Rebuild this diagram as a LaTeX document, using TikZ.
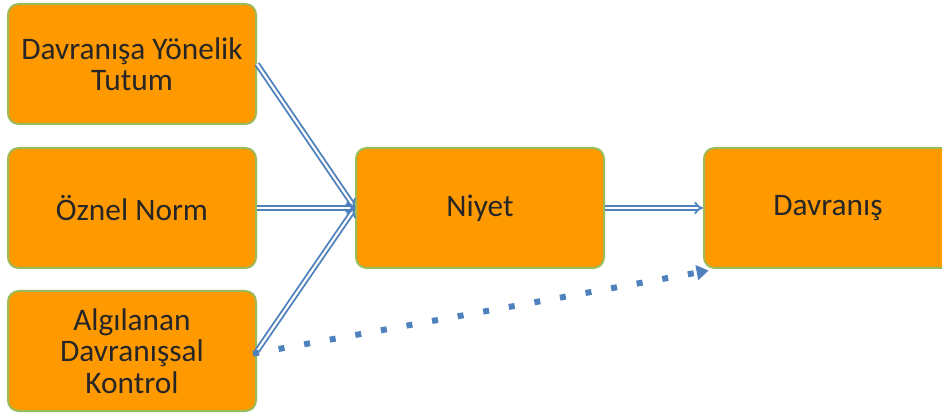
\documentclass[tikz,border=0pt]{standalone}
\usepackage{fontspec}
\setmainfont{Carlito}
\usetikzlibrary{arrows.meta}

\definecolor{kutu}{RGB}{255,153,0}
\definecolor{kenar}{RGB}{155,187,89}
\definecolor{ok}{RGB}{79,129,189}

\tikzset{
  kutu/.style={draw=kenar, line width=1.5pt, fill=kutu, rounded corners=8pt,
    minimum width=186pt, minimum height=90pt, align=center, inner sep=2pt,
    font=\fontsize{23.5}{23.5}\selectfont, text=black!85},
  cift/.style={draw=ok, double=white, double distance=1.6pt, line width=1.4pt,
    -{Implies[length=5pt]}},
  nokta/.style={draw=ok, line width=4.5pt, dash pattern=on 4.5pt off 15pt,
    -{Triangle[length=9pt,width=11pt]}, shorten >=-2pt}
}

\begin{document}
\begin{tikzpicture}[x=0.75pt,y=0.75pt,yscale=-1,xscale=1]
	\useasboundingbox (0,0) rectangle (942,416);

	% kutular
	\node [kutu] (tutum) at (132,64) {Davranışa Yönelik\\Tutum};
	\node [kutu] (norm) at (132,208) {Öznel Norm};
	\node [kutu] (kontrol) at (132,351) {Algılanan\\Davranışsal\\Kontrol};
	\node [kutu] (niyet) at (480,208) {Niyet};
	\node [kutu] (davranis) at (828,208) {Davranış};

	\coordinate (ucnokta) at (706,271);

	% oklar
	\draw [cift] (tutum.east) -- (niyet.west);
	\draw [cift] (norm.east) -- (niyet.west);
	\draw [cift] (kontrol.east) -- (niyet.west);
	\draw [cift] (niyet.east) -- (davranis.west);

	% kesikli ok
	\draw [nokta] ([xshift=-3pt,yshift=2pt]kontrol.east) -- (ucnokta);

\end{tikzpicture}
\end{document}
